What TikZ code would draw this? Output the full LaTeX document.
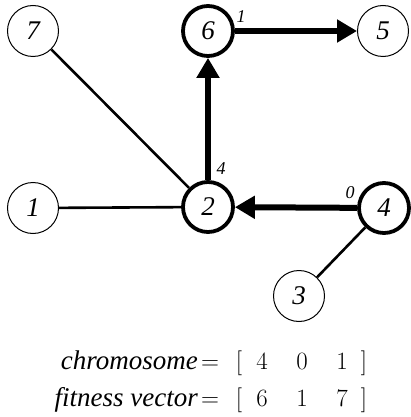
\documentclass[tikz,border=0pt]{standalone}
\usepackage{fontspec}
\setmainfont{Liberation Serif}[ItalicFont={Liberation Serif Italic}]
\newfontfamily\serifit{Liberation Serif Italic}
\usetikzlibrary{arrows.meta}
\tikzset{
  vert/.style={circle,draw=black,line width=1pt,minimum size=51pt,inner sep=0pt,font=\fontsize{27}{27}\selectfont\serifit},
  hot/.style={vert,line width=3.8pt,minimum size=50pt},
  thin/.style={line width=2.6pt},
  thick/.style={line width=6pt,-{Triangle[length=20pt,width=22pt]}},
  elab/.style={font=\fontsize{18}{18}\selectfont\serifit,inner sep=0pt},
  word/.style={font=\fontsize{27}{27}\selectfont\serifit,inner sep=0pt,anchor=base east},
  sym/.style={font=\fontsize{23}{23}\selectfont,inner sep=0pt,anchor=base}
}
\begin{document}
\begin{tikzpicture}[x=1pt,y=-1pt]
\useasboundingbox (0,0) rectangle (410,417);
\node[vert] (n7) at (33,31) {7};
\node[hot]  (n6) at (208,31) {6};
\node[vert] (n5) at (383,31) {5};
\node[vert] (n1) at (33,208) {1};
\node[hot]  (n2) at (208,207) {2};
\node[hot]  (n4) at (384,208) {4};
\node[vert] (n3) at (299,296) {3};
\draw[thin] (n7) -- (n2);
\draw[thin] (n1) -- (n2);
\draw[thin] (n3) -- (n4);
\draw[thick] (n2) -- (n6);
\draw[thick] (n6) -- (n5);
\draw[thick] (n4) -- (n2);
\node[elab] (l1) at (241,17) {1};
\node[elab] (l4) at (221,169) {4};
\node[elab] (l0) at (350,193) {0};
% text rows
\node[word] (w1) at (198,369) {chromosome};
\node[sym] (e1) at (210,369) {$=$};
\node[sym] (a1) at (239,369) {$[$};
\node[sym] (c1) at (262,369) {$4$};
\node[sym] (c2) at (302,369) {$0$};
\node[sym] (c3) at (342,369) {$1$};
\node[sym] (b1) at (364,369) {$]$};
\node[word] (w2) at (198,406) {fitness vector};
\node[sym] (e2) at (210,406) {$=$};
\node[sym] (a2) at (239,406) {$[$};
\node[sym] (d1) at (262,406) {$6$};
\node[sym] (d2) at (302,406) {$1$};
\node[sym] (d3) at (342,406) {$7$};
\node[sym] (b2) at (364,406) {$]$};
\end{tikzpicture}
\end{document}
